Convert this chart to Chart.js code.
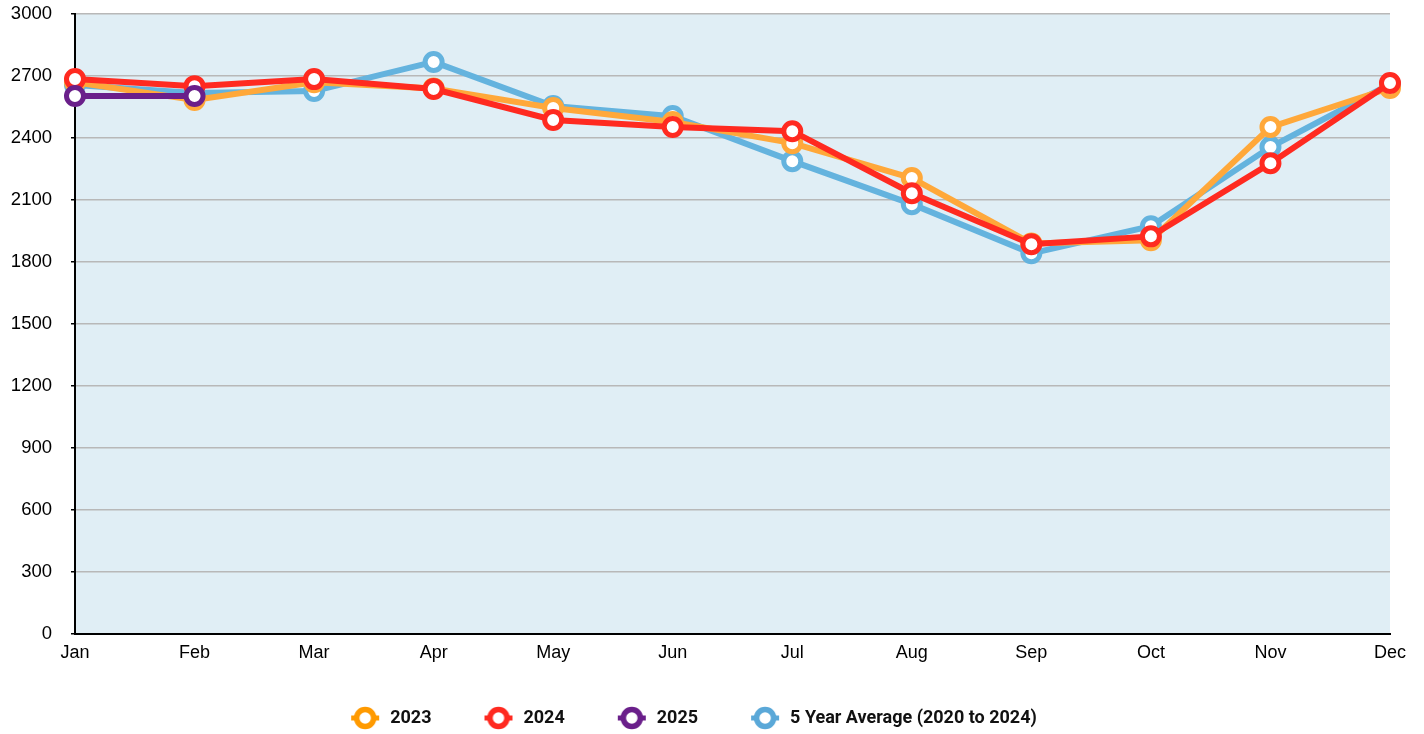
<!DOCTYPE html>
<html>
<head>
<meta charset="utf-8">
<script src="https://cdn.jsdelivr.net/npm/chart.js@4/dist/chart.umd.min.js"></script>
<style>
  html, body { margin: 0; padding: 0; background: #fff; }
  #wrap { width: 1424px; height: 734px; }
</style>
</head>
<body>
<div id="wrap"><canvas id="chart"></canvas></div>
<script>
const months = ['Jan', 'Feb', 'Mar', 'Apr', 'May', 'Jun', 'Jul', 'Aug', 'Sep', 'Oct', 'Nov', 'Dec'];
const y2023 = [2670, 2584, 2670, 2640, 2545, 2477, 2375, 2206, 1890, 1905, 2453, 2642];
const y2024 = [2685, 2651, 2685, 2637, 2487, 2453, 2433, 2133, 1886, 1924, 2278, 2666];
const y2025 = [2603, 2603];
const fiveYearAvg = [2656, 2618, 2627, 2768, 2555, 2506, 2288, 2080, 1842, 1973, 2356, 2660];

const colors = {
    y2023: '#ffa83a',
    y2024: '#ff2a20',
    y2025: '#6a1f8a',
    avg: '#64b3de'
};
const legendColors = {
    y2023: '#ff9a00',
    y2024: '#ff2a20',
    y2025: '#6a1f8a',
    avg: '#5aa8d8'
};

// legend icon: ring with short line stubs, left margin gives the gap between items
const ICON_W = 78;
function legendIcon(color) {
    const c = document.createElement('canvas');
    c.width = ICON_W;
    c.height = 26;
    const g = c.getContext('2d');
    const x1 = ICON_W - 2, x0 = x1 - 28, cx = (x0 + x1) / 2;
    g.strokeStyle = color;
    g.lineWidth = 5;
    g.beginPath();
    g.moveTo(x0, 13);
    g.lineTo(x1, 13);
    g.stroke();
    g.lineWidth = 5.5;
    g.beginPath();
    g.arc(cx, 13, 8.5, 0, Math.PI * 2);
    g.fillStyle = '#fff';
    g.fill();
    g.stroke();
    return c;
}

const plotBackground = {
    id: 'plotBackground',
    beforeDraw(chart) {
        const { ctx, chartArea } = chart;
        ctx.save();
        ctx.fillStyle = '#e0eef5';
        ctx.fillRect(chartArea.left, chartArea.top, chartArea.right - chartArea.left, chartArea.bottom - chartArea.top);
        ctx.restore();
    }
};

// the first icon's left margin pushes the row right; pull it back, and nudge it down a bit
const legendShift = {
    id: 'legendShift',
    afterLayout(chart) {
        chart.legend.left -= 25;
        chart.legend.right -= 25;
        chart.legend.top += 3;
        chart.legend.bottom += 3;
    }
};

function series(label, data, color, iconColor, order) {
    return {
        label: label,
        data: data,
        borderColor: color,
        backgroundColor: '#fff',
        borderWidth: 6,
        pointRadius: 8.5,
        pointHoverRadius: 8.5,
        pointBorderWidth: 5,
        pointBackgroundColor: '#fff',
        pointBorderColor: color,
        tension: 0,
        fill: false,
        order: order,
        legendIcon: legendIcon(iconColor)
    };
}

document.addEventListener('DOMContentLoaded', () => {
    const data = {
        labels: months,
        datasets: [
            series('2023', y2023, colors.y2023, legendColors.y2023, 2),
            series('2024', y2024, colors.y2024, legendColors.y2024, 1),
            series('2025', y2025, colors.y2025, legendColors.y2025, 0),
            series('5 Year Average (2020 to 2024)', fiveYearAvg, colors.avg, legendColors.avg, 3)
        ]
    };

    const config = {
        type: 'line',
        data: data,
        plugins: [plotBackground, legendShift],
        options: {
            responsive: true,
            maintainAspectRatio: false,
            animation: false,
            layout: {
                padding: { left: 0, right: 34, top: 14, bottom: 0 }
            },
            plugins: {
                legend: {
                    position: 'bottom',
                    labels: {
                        usePointStyle: true,
                        pointStyleWidth: ICON_W,
                        padding: 5,
                        color: '#111',
                        font: { family: 'Roboto', size: 18, weight: 'bold' },
                        sort: (a, b) => a.datasetIndex - b.datasetIndex,
                        generateLabels: (chart) => {
                            const items = Chart.defaults.plugins.legend.labels.generateLabels(chart);
                            items.forEach((item) => {
                                item.pointStyle = chart.data.datasets[item.datasetIndex].legendIcon;
                            });
                            return items;
                        }
                    }
                },
                tooltip: { enabled: false }
            },
            scales: {
                x: {
                    offset: false,
                    grid: { display: false, drawTicks: false },
                    border: { display: true, color: '#000', width: 2 },
                    ticks: {
                        color: '#000',
                        padding: 8,
                        maxRotation: 0,
                        font: { family: 'Liberation Sans', size: 18 }
                    },
                    afterFit: (scale) => { scale.height = 67; }
                },
                y: {
                    min: 0,
                    max: 3000,
                    grid: {
                        color: '#b8b8b8',
                        lineWidth: 1.5,
                        drawTicks: true,
                        tickLength: 4,
                        tickColor: '#000'
                    },
                    border: { display: true, color: '#000', width: 2 },
                    ticks: {
                        stepSize: 300,
                        color: '#000',
                        padding: 19,
                        font: { family: 'Liberation Sans', size: 18.5 },
                        callback: (v) => String(v)
                    },
                    afterFit: (scale) => {
                        scale.width = 75;
                        scale.paddingTop = 0;
                        scale.paddingBottom = 0;
                    }
                }
            }
        }
    };

    const ctx = document.getElementById('chart').getContext('2d');
    new Chart(ctx, config);
});
</script>
</body>
</html>
